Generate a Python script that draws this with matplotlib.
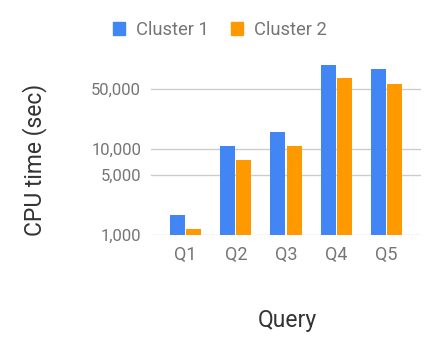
from matplotlib import pyplot as plt
from matplotlib.patches import Patch
import numpy as np

# data
queries = ["Q1", "Q2", "Q3", "Q4", "Q5"]
cluster1 = [1710, 10800, 15800, 94800, 85200]
cluster2 = [1170, 7450, 10800, 66900, 57000]
yticks = [1000, 5000, 10000, 50000]
yticklabels = ["1,000", "5,000", "10,000", "50,000"]

blue = "#4285F4"
orange = "#FF9900"
grey_text = "#757575"
title_text = "#333333"

plt.rcParams["font.family"] = ["Roboto", "DejaVu Sans"]

W, H = 439, 352
fig = plt.figure(figsize=(W / 100, H / 100), dpi=100)
ax = fig.add_axes([151 / W, 1 - 235 / H, 270 / W, 172 / H])

x = np.arange(len(queries))
ax.bar(x - 0.16, cluster1, width=0.3, color=blue, zorder=3)
ax.bar(x + 0.16, cluster2, width=0.3, color=orange, zorder=3)

ax.set_yscale("log")
ax.set_ylim(1000, 100000)
ax.set_xlim(-0.69, 4.69)
ax.set_yticks(yticks)
ax.set_yticklabels(yticklabels)
ax.minorticks_off()
ax.set_xticks(x)
ax.set_xticklabels(queries)

ax.grid(axis="y", color="#cccccc", linewidth=1.0, zorder=0)
for s in ax.spines.values():
    s.set_visible(False)
ax.tick_params(axis="y", length=0, pad=7, labelsize=12, labelcolor=grey_text)
ax.tick_params(axis="x", length=0, pad=8, labelsize=13, labelcolor=grey_text)

# axis titles placed by hand, like the original
fig.text(35 / W, 1 - 160 / H, "CPU time (sec)", rotation=90, ha="center", va="center",
         fontsize=16.5, color=title_text)
fig.text(287 / W, 1 - 321 / H, "Query", ha="center", va="center",
         fontsize=16.5, color=title_text)

handles = [Patch(color=blue, label="Cluster 1"), Patch(color=orange, label="Cluster 2")]
fig.legend(handles=handles, loc="center", bbox_to_anchor=(220 / W, 1 - 30 / H),
           ncol=2, frameon=False, fontsize=13.2, labelcolor=grey_text,
           handlelength=0.65, handleheight=0.65, handletextpad=0.6, columnspacing=1.2)

fig.savefig("out.png", dpi=100)
